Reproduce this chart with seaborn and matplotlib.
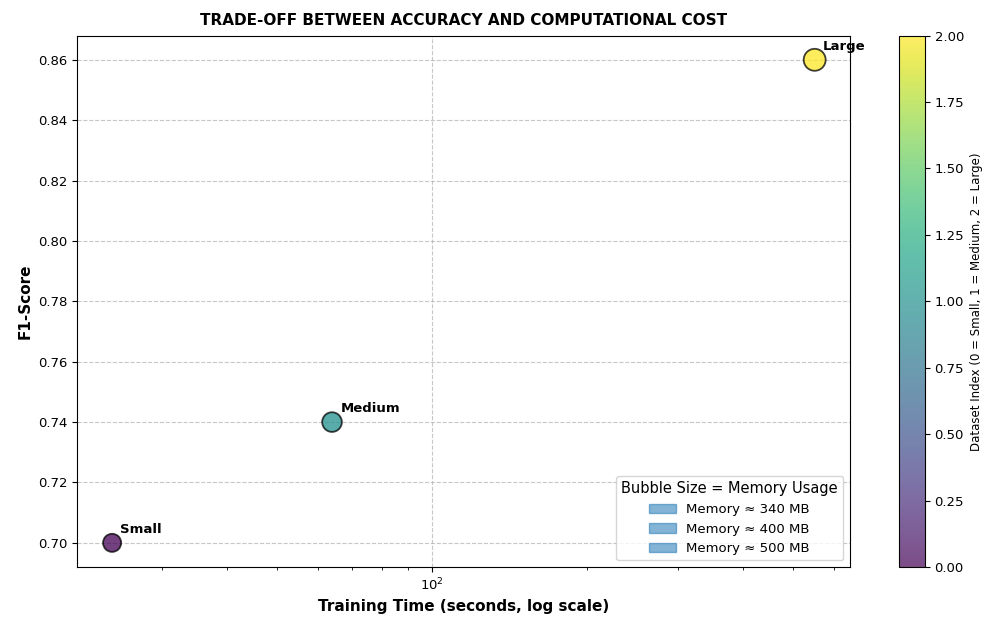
import numpy as np
import pandas as pd
import seaborn as sns
import matplotlib
matplotlib.use("Agg")
import matplotlib.pyplot as plt
from matplotlib.patches import Patch
from matplotlib.colors import Normalize
from matplotlib.cm import ScalarMappable

# data
datasets = ["Small", "Medium", "Large"]
train_time = [24, 64, 551]
f1_score = [0.70, 0.74, 0.86]
memory_mb = [340, 400, 500]
dataset_idx = [0, 1, 2]


def main():
    df = pd.DataFrame({
        "Dataset": datasets,
        "Time": train_time,
        "F1": f1_score,
        "Memory": memory_mb,
        "Index": dataset_idx,
    })

    # plain black text like the matplotlib defaults
    sns.set_style("ticks", rc={"text.color": "black", "axes.labelcolor": "black",
                               "xtick.color": "black", "ytick.color": "black",
                               "axes.edgecolor": "black"})
    plt.rcParams['font.family'] = ['DejaVu Sans']

    fig = plt.figure(figsize=(9.87, 6.2), dpi=100)
    ax = fig.add_axes([0.078, 0.0855, 0.783, 0.857])
    cax = fig.add_axes([0.911, 0.0855, 0.026, 0.857])

    cmap = plt.get_cmap("viridis")
    norm = Normalize(vmin=0, vmax=2)

    sns.scatterplot(
        data=df, x="Time", y="F1",
        hue="Index", palette="viridis", hue_norm=(0, 2),
        size="Memory", sizes=(170, 250), size_norm=(340, 500),
        alpha=0.75, edgecolor="black", linewidth=1.3,
        legend=False, ax=ax
    )
    ax.set_xscale("log")

    # label each bubble
    for _, row in df.iterrows():
        ax.annotate(row["Dataset"], (row["Time"], row["F1"]),
                    xytext=(6, 5), textcoords="offset points",
                    fontsize=9.5, fontweight="bold", ha="left", va="bottom")

    ax.grid(True, which="major", linestyle="--", color="#b0b0b0", alpha=0.7)
    ax.set_xlabel("Training Time (seconds, log scale)", fontsize=11, fontweight="bold")
    ax.set_ylabel("F1-Score", fontsize=11, fontweight="bold")
    ax.set_title("TRADE-OFF BETWEEN ACCURACY AND COMPUTATIONAL COST",
                 fontsize=11, fontweight="bold", pad=8)
    ax.tick_params(labelsize=9.5)
    for s in ax.spines.values():
        s.set_visible(True)
        s.set_color("black")

    # colorbar for dataset index
    sm = ScalarMappable(norm=norm, cmap=cmap)
    sm.set_array([])
    cbar = fig.colorbar(sm, cax=cax, alpha=0.7)
    cbar.set_ticks(np.arange(0, 2.01, 0.25))
    cbar.ax.tick_params(labelsize=9.5)
    cbar.set_label("Dataset Index (0 = Small, 1 = Medium, 2 = Large)", fontsize=8.5)

    # legend for bubble size
    handles = [Patch(facecolor="tab:blue", alpha=0.55, edgecolor="tab:blue",
                     label=f"Memory \u2248 {m} MB") for m in memory_mb]
    ax.legend(handles=handles, title="Bubble Size = Memory Usage",
              loc="lower right", fontsize=9.5, title_fontsize=10.5)

    fig.savefig("out.png", dpi=100)


if __name__ == "__main__":
    main()
